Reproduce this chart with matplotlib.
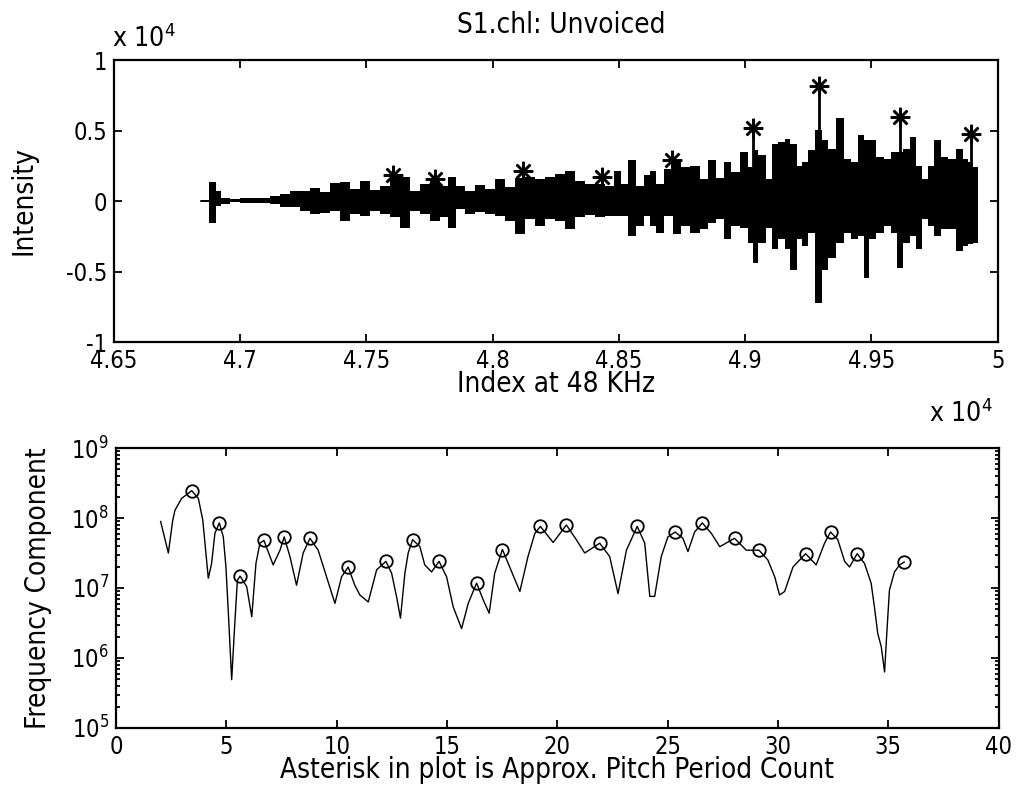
import matplotlib.pyplot as plt
import matplotlib.ticker as ticker

plt.rcParams['font.family'] = ['DejaVu Sans']
plt.rcParams['font.stretch'] = 'condensed'
plt.rcParams['mathtext.fontset'] = 'dejavusans'

# top panel: waveform envelope (sample index, upper, lower)
wave_idx = [46844, 46860, 46892, 46912, 46939, 46979, 47019, 47058, 47098, 47137,
            47177, 47217, 47256, 47296, 47335, 47375, 47415, 47454, 47494, 47533,
            47573, 47612, 47652, 47692, 47731, 47771, 47810, 47838, 47870, 47909,
            47949, 47989, 48028, 48068, 48107, 48147, 48187, 48226, 48266, 48305,
            48345, 48384, 48424, 48464, 48495, 48523, 48551, 48582, 48614, 48630,
            48662, 48693, 48733, 48761, 48800, 48840, 48867, 48899, 48931, 48959,
            48998, 49026, 49038, 49065, 49097, 49117, 49145, 49168, 49184, 49196,
            49216, 49236, 49263, 49291, 49315, 49343, 49374, 49406, 49434, 49461,
            49477, 49501, 49533, 49564, 49592, 49612, 49639, 49663, 49691, 49711,
            49738, 49758, 49790, 49818, 49849, 49873, 49893, 49913, 49921]
wave_hi = [60, 60, 1330, 740, 190, 140, 190, 190, 240, 330,
           500, 740, 740, 900, 620, 1260, 1380, 860, 1430, 810,
           1090, 1810, 1690, 740, 1210, 1450, 1090, 1690, 1090, 740,
           1140, 860, 1570, 980, 1620, 1690, 1570, 1690, 1930, 2160,
           1450, 1210, 1210, 1090, 2160, 1200, 2880, 1090, 1860, 2160,
           1210, 2290, 2760, 2400, 2520, 1570, 2880, 1600, 2760, 2050,
           3480, 2400, 3600, 3240, 1570, 4070, 4190, 4430, 4070, 4070,
           2520, 2760, 3590, 5020, 4310, 3710, 5860, 3000, 2760, 4660,
           4310, 4310, 3120, 3000, 3480, 3480, 3710, 4550, 2520, 1570,
           2520, 4310, 3120, 3000, 3710, 3000, 2760, 2400, 2400]
wave_lo = [-60, -60, -1570, -330, -210, -100, -140, -150, -160, -210,
           -450, -450, -690, -930, -860, -690, -1400, -930, -1050, -690,
           -930, -1160, -1880, -690, -930, -1400, -1160, -1880, -570, -930,
           -810, -930, -1050, -1400, -2360, -1290, -1760, -1290, -1400, -2000,
           -1160, -1000, -1160, -1050, -1050, -1050, -2480, -1760, -1050, -1760,
           -2240, -1050, -2360, -1760, -2240, -2000, -1530, -1290, -2710, -1760,
           -1880, -2950, -4380, -2950, -1880, -3430, -2710, -3430, -4860, -4860,
           -2710, -3190, -2240, -7230, -4860, -4020, -2950, -2240, -2710, -2480,
           -5450, -2710, -2240, -1760, -2240, -4740, -2950, -2480, -3430, -1290,
           -1760, -2480, -2000, -2000, -3550, -3190, -3070, -2950, -2950]

# asterisks (approx. pitch period peaks)
ast_idx = [47606, 47771, 48118, 48433, 48712, 49031, 49291, 49615, 49893]
ast_val = [1880, 1570, 2160, 1740, 2930, 5210, 8190, 5930, 4790]

# bottom panel: spectrum curve (x, log10 of value) and circled peaks
spec_x = [2.02, 2.37, 2.57, 2.67, 2.97, 3.43, 3.73, 3.93, 4.03, 4.18,
          4.33, 4.48, 4.68, 4.86, 4.98, 5.09, 5.24, 5.39, 5.50, 5.62,
          5.92, 6.15, 6.34, 6.52, 6.70, 7.12, 7.43, 7.62, 7.88, 8.18,
          8.48, 8.79, 9.16, 9.54, 9.92, 10.22, 10.52, 10.82, 11.05, 11.43,
          11.81, 12.23, 12.49, 12.71, 12.89, 13.09, 13.24, 13.44, 13.77, 13.99,
          14.30, 14.64, 14.98, 15.28, 15.66, 15.96, 16.34, 16.64, 16.91, 17.16,
          17.51, 17.84, 18.30, 18.67, 18.98, 19.23, 19.81, 20.41, 20.86, 21.24,
          21.92, 22.37, 22.75, 23.13, 23.62, 23.96, 24.19, 24.41, 24.71, 25.01,
          25.34, 25.69, 25.92, 26.22, 26.57, 26.98, 27.36, 28.03, 28.56, 29.14,
          29.54, 29.85, 30.07, 30.30, 30.68, 31.25, 31.73, 32.11, 32.38, 32.71,
          33.02, 33.24, 33.59, 33.92, 34.22, 34.37, 34.52, 34.68, 34.83, 34.93,
          35.05, 35.28, 35.51, 35.72]
spec_log = [7.95, 7.50, 7.97, 8.11, 8.28, 8.39, 8.28, 7.97, 7.64, 7.14,
            7.35, 7.78, 7.93, 7.73, 7.30, 6.64, 5.69, 6.54, 7.11, 7.17,
            7.02, 6.59, 7.35, 7.64, 7.68, 7.33, 7.54, 7.73, 7.45, 7.04,
            7.50, 7.71, 7.54, 7.16, 6.78, 7.16, 7.30, 7.04, 6.90, 6.80,
            7.26, 7.38, 7.21, 6.88, 6.57, 7.21, 7.50, 7.69, 7.59, 7.33,
            7.23, 7.38, 7.16, 6.73, 6.42, 6.78, 7.07, 6.83, 6.64, 7.21,
            7.55, 7.30, 6.95, 7.45, 7.78, 7.88, 7.65, 7.90, 7.69, 7.50,
            7.64, 7.45, 6.92, 7.54, 7.88, 7.64, 6.88, 6.88, 7.45, 7.73,
            7.80, 7.71, 7.52, 7.80, 7.93, 7.78, 7.59, 7.71, 7.54, 7.54,
            7.40, 7.16, 6.90, 6.95, 7.30, 7.49, 7.33, 7.64, 7.80, 7.69,
            7.38, 7.30, 7.49, 7.35, 7.07, 6.73, 6.35, 6.16, 5.80, 6.35,
            6.97, 7.23, 7.33, 7.37]
peak_x = [3.43, 4.68, 5.62, 6.70, 7.62, 8.79, 10.52, 12.23, 13.44, 14.64,
          16.34, 17.51, 19.23, 20.41, 21.92, 23.62, 25.34, 26.57, 28.03, 29.14,
          31.25, 32.38, 33.59, 35.72]
peak_log = [8.39, 7.93, 7.17, 7.68, 7.73, 7.71, 7.30, 7.38, 7.69, 7.38,
            7.07, 7.55, 7.88, 7.90, 7.64, 7.88, 7.80, 7.93, 7.71, 7.54,
            7.49, 7.80, 7.49, 7.37]

fig = plt.figure(figsize=(10.18, 7.9), dpi=100)
ax1 = fig.add_axes([0.112, 0.567, 0.868, 0.357])
ax2 = fig.add_axes([0.114, 0.0785, 0.867, 0.3544])

fs = 20    # labels / title
tfs = 17   # tick labels

# waveform
ax1.fill_between(wave_idx, wave_lo, wave_hi, step='mid', color='k', lw=0)
ax1.vlines(ast_idx, 0, ast_val, color='k', lw=2)
ax1.plot([46844, 46900], [0, 0], color='k', lw=1.2)
ax1.plot(ast_idx, ast_val, ls='none', marker=(8, 2, 0), ms=14, mew=1.8, color='k')
ax1.set_xlim(46500, 50000)
ax1.set_ylim(-10000, 10000)
ax1.xaxis.set_major_locator(ticker.MultipleLocator(500))
ax1.yaxis.set_major_locator(ticker.MultipleLocator(5000))
ax1.xaxis.set_major_formatter(ticker.FuncFormatter(lambda v, p: f'{v / 1e4:g}'))
ax1.yaxis.set_major_formatter(ticker.FuncFormatter(lambda v, p: f'{v / 1e4:g}'))
ax1.set_ylabel('Intensity', fontsize=fs, labelpad=20)
ax1.set_xlabel('Index at 48 KHz', fontsize=fs, labelpad=-2)
fig.text(0.551, 0.958, 'S1.chl: Unvoiced', ha='center', va='baseline', fontsize=fs)
fig.text(0.110, 0.940, r'x 10$^{4}$', ha='left', va='baseline', fontsize=19)
fig.text(0.913, 0.466, r'x 10$^{4}$', ha='left', va='baseline', fontsize=19)

# spectrum
ax2.plot(spec_x, [10 ** v for v in spec_log], color='k', lw=1)
ax2.plot(peak_x, [10 ** v for v in peak_log], ls='none', marker='o', ms=9,
         mfc='none', mec='k', mew=1.3)
ax2.set_yscale('log')
ax2.set_xlim(0, 40)
ax2.set_ylim(1e5, 1e9)
ax2.xaxis.set_major_locator(ticker.MultipleLocator(5))
ax2.set_ylabel('Frequency Component', fontsize=fs, labelpad=14)
ax2.set_xlabel('Asterisk in plot is Approx. Pitch Period Count', fontsize=fs, labelpad=-2)

for ax in (ax1, ax2):
    ax.tick_params(direction='in', which='both', top=True, right=True,
                   labelsize=tfs, width=1.3, pad=5)
    ax.tick_params(which='major', length=6)
    ax.tick_params(which='minor', length=3)
    for s in ax.spines.values():
        s.set_linewidth(1.6)

fig.savefig('out.png', dpi=100)
